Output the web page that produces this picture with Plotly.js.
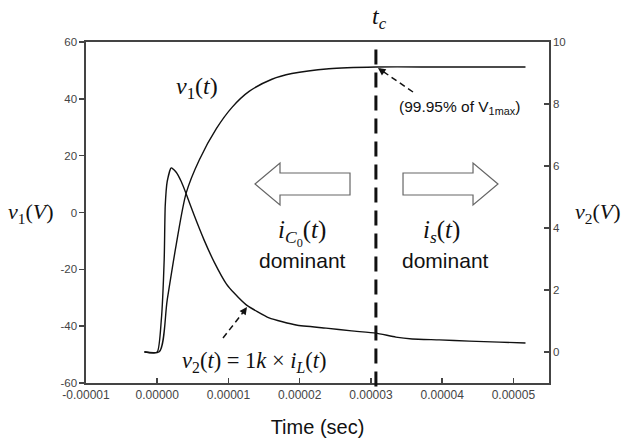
<!DOCTYPE html>
<html>
<head>
<meta charset="utf-8">
<script src="https://cdn.plot.ly/plotly-3.0.1.min.js"></script>
<style>html,body{margin:0;padding:0;background:#fff;}#chart{width:622px;height:442px;}</style>
</head>
<body>
<div id="chart"></div>
<script>
// ---- data ----
const v1Time = [-1.8e-6, 2.8e-7, 1.4e-6, 2.66e-6, 4.07e-6, 5.9e-6, 8.3e-6, 1.05e-5, 1.29e-5, 1.61e-5, 1.89e-5, 2.41e-5, 3.07e-5, 4.0e-5, 5.17e-5];
const v1Volts = [-49, -49, -30.8, -11.4, 6.9, 18.5, 29.5, 37.0, 42.6, 46.9, 48.9, 50.6, 51.2, 51.2, 51.2];

const v2Time = [-1.8e-6, 0, 5.6e-7, 9.8e-7, 1.12e-6, 1.4e-6, 1.96e-6, 2.66e-6, 3.37e-6, 4.07e-6, 5.2e-6, 6.6e-6, 8.0e-6, 9.7e-6, 1.08e-5, 1.25e-5, 1.57e-5, 1.95e-5, 2.37e-5, 2.73e-5, 3.07e-5, 3.35e-5, 3.58e-5, 3.96e-5, 4.38e-5, 4.8e-5, 5.17e-5];
const v2Volts = [0, 0, 1.0, 3.0, 4.7, 5.5, 5.94, 5.8, 5.5, 5.1, 4.4, 3.6, 2.9, 2.2, 1.9, 1.52, 1.10, 0.87, 0.77, 0.68, 0.61, 0.48, 0.42, 0.39, 0.35, 0.32, 0.29];

const tC = 3.07e-5;

const xTickVals = [-1e-5, 0, 1e-5, 2e-5, 3e-5, 4e-5, 5e-5];
const xTickText = ["-0.00001", "0.00000", "0.00001", "0.00002", "0.00003", "0.00004", "0.00005"];
const yTickVals = [-60, -40, -20, 0, 20, 40, 60];
const yTickText = ["-60", "-40", "-20", "0", "20", "40", "60"];
const y2TickVals = [0, 2, 4, 6, 8, 10];
const y2TickText = ["0", "2", "4", "6", "8", "10"];

// ---- layout helpers (pixel -> paper) ----
const L = 86, R = 549, T = 42, B = 383;
const px = x => (x - L) / (R - L);
const py = y => (B - y) / (B - T);

const serif = "Liberation Serif, Times New Roman, serif";
const sans = "Liberation Sans, Arial, sans-serif";
const axisCol = "#444";

const traces = [
  {x: v1Time, y: v1Volts, type: "scatter", mode: "lines", yaxis: "y",
   line: {color: "#111", width: 1.4, shape: "spline", smoothing: 0.8}, hoverinfo: "skip"},
  {x: v2Time, y: v2Volts, type: "scatter", mode: "lines", yaxis: "y2",
   line: {color: "#111", width: 1.4, shape: "spline", smoothing: 0.5}, hoverinfo: "skip"}
];

function blockArrow(pts) {
  return "M " + pts.map(p => px(p[0]).toFixed(4) + "," + py(p[1]).toFixed(4)).join(" L ") + " Z";
}

const shapes = [
  {type: "line", xref: "x", yref: "paper", x0: tC, x1: tC, y0: -0.01, y1: 1.0,
   line: {color: "#111", width: 3, dash: "15px,8px"}},
  {type: "line", xref: "paper", yref: "paper", x0: px(413), y0: py(92), x1: px(381), y1: py(70),
   line: {color: "#111", width: 1.5, dash: "6px,4px"}},
  {type: "line", xref: "paper", yref: "paper", x0: px(223), y0: py(338), x1: px(245), y1: py(310),
   line: {color: "#111", width: 1.5, dash: "6px,4px"}},
  {type: "path", xref: "paper", yref: "paper",
   path: blockArrow([[255,184],[280,163],[280,173],[350,173],[350,195],[280,195],[280,205]]),
   line: {color: "#666", width: 1.2}, fillcolor: "#fff"},
  {type: "path", xref: "paper", yref: "paper",
   path: blockArrow([[498,184],[473,163],[473,173],[403,173],[403,195],[473,195],[473,205]]),
   line: {color: "#666", width: 1.2}, fillcolor: "#fff"}
];

function txt(text, x, y, font, size, extra) {
  return Object.assign({text: text, xref: "paper", yref: "paper", x: px(x), y: py(y),
    xanchor: "center", yanchor: "middle", showarrow: false,
    font: {family: font, size: size, color: "#111"}}, extra || {});
}

const annotations = [
  txt("<i>v</i><sub>1</sub>(<i>t</i>)", 197, 88, serif, 24),
  txt("<i>t<sub>c</sub></i>", 379, 18, serif, 24),
  txt("(99.95% of V<sub>1max</sub>)", 459, 107, sans, 15.5),
  txt("<i>i</i><sub><i>C</i><sub>0</sub></sub>(<i>t</i>)", 302, 233, serif, 25),
  txt("dominant", 302, 260, sans, 21),
  txt("<i>i</i><sub><i>s</i></sub>(<i>t</i>)", 441, 232, serif, 25),
  txt("dominant", 445, 260, sans, 21),
  txt("<i>v</i><sub>2</sub>(<i>t</i>) = 1<i>k</i> × <i>i</i><sub><i>L</i></sub>(<i>t</i>)", 254, 362, serif, 22.5),
  txt("<i>v</i><sub>1</sub>(<i>V</i>)", 31, 213, serif, 22),
  txt("<i>v</i><sub>2</sub>(<i>V</i>)", 598, 213, serif, 22),
  {xref: "paper", yref: "paper", x: px(378), y: py(68), ax: 7, ay: 5, text: "", showarrow: true,
   arrowhead: 2, arrowsize: 1, arrowwidth: 1.5, arrowcolor: "#111", standoff: 0},
  {xref: "paper", yref: "paper", x: px(247), y: py(307), ax: -5, ay: 7, text: "", showarrow: true,
   arrowhead: 2, arrowsize: 1, arrowwidth: 1.5, arrowcolor: "#111", standoff: 0}
];

const layout = {
  width: 622, height: 442,
  margin: {l: L, r: 622 - R, t: T, b: 442 - B, pad: 0},
  paper_bgcolor: "#fff", plot_bgcolor: "#fff",
  showlegend: false,
  font: {family: sans, size: 12, color: axisCol},
  xaxis: {range: [-1e-5, 5.5e-5], tickvals: xTickVals, ticktext: xTickText,
    ticks: "inside", ticklen: 5, tickwidth: 1.5, tickcolor: axisCol,
    showline: true, linecolor: axisCol, linewidth: 1.6, mirror: true,
    showgrid: false, zeroline: false,
    tickfont: {family: sans, size: 12, color: axisCol},
    title: {text: "Time (sec)", font: {family: sans, size: 20, color: "#111"}, standoff: 19}},
  yaxis: {range: [-60, 60], tickvals: yTickVals, ticktext: yTickText,
    ticks: "outside", ticklen: 5, tickwidth: 1.5, tickcolor: axisCol,
    showline: true, linecolor: axisCol, linewidth: 1.6, mirror: true,
    showgrid: false, zeroline: false,
    tickfont: {family: sans, size: 11.5, color: axisCol}},
  yaxis2: {range: [-1, 10], tickvals: y2TickVals, ticktext: y2TickText,
    overlaying: "y", side: "right",
    ticks: "inside", ticklen: 5, tickwidth: 1.5, tickcolor: axisCol,
    showline: true, linecolor: axisCol, linewidth: 1.6,
    showgrid: false, zeroline: false,
    tickfont: {family: sans, size: 11.5, color: axisCol}},
  shapes: shapes,
  annotations: annotations
};

Plotly.newPlot("chart", traces, layout, {staticPlot: true, displayModeBar: false});
</script>
</body>
</html>
